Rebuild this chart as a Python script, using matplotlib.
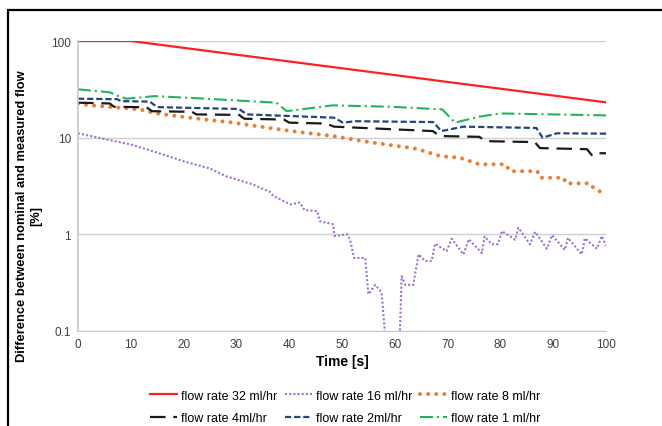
import matplotlib
matplotlib.use("Agg")
import matplotlib.pyplot as plt
from matplotlib.patches import Rectangle

plt.rcParams['font.family'] = ['Liberation Sans', 'DejaVu Sans']

# ---------------------------------- DATA ----------------------------------- #

t32 = [0, 10, 20, 30, 40, 50, 60, 70, 80, 90, 100]
v32 = [100, 100, 85, 72.2, 61.4, 52.2, 44.4, 37.7, 32.1, 27.3, 23.2]

t16 = [0, 5, 10, 15, 20, 25, 28, 30, 33, 36.4, 37, 40.2, 42, 42.9, 45.3, 45.8,
       48.3, 48.6, 51, 51.5, 52.3, 54.4, 55, 56.3, 57.5, 58.1, 58.6, 60.8, 61.3,
       62, 63.5, 64.5, 65.7, 67, 67.6, 69.8, 70.8, 73, 74, 76.5, 77, 78.4, 79.5,
       80.3, 82.8, 83.4, 85.6, 86.6, 88.8, 89.8, 92.2, 92.8, 95.4, 96, 98.3,
       99.2, 100]
v16 = [11.1, 9.7, 8.5, 7.0, 5.7, 4.8, 4.0, 3.7, 3.3, 2.74, 2.49, 2.04, 2.13,
       1.78, 1.74, 1.37, 1.27, 0.96, 1.0, 0.89, 0.57, 0.57, 0.24, 0.30, 0.25,
       0.1, 0.05, 0.05, 0.37, 0.30, 0.30, 0.62, 0.53, 0.53, 0.80, 0.67, 0.90,
       0.62, 0.89, 0.64, 0.95, 0.79, 0.79, 1.08, 0.88, 1.17, 0.79, 1.06, 0.71,
       0.98, 0.69, 0.92, 0.62, 0.91, 0.71, 0.96, 0.76]

t8 = [0, 2.3, 8, 11.7, 14.2, 18.7, 23.7, 29.4, 35.8, 41.5, 48.3, 54, 60.4, 64,
      68.6, 72.3, 76, 81, 81.8, 87, 87.5, 92, 92.4, 97, 97.6, 98.9, 100]
v8 = [22.5, 21.6, 20.4, 19.6, 18.1, 16.7, 15.5, 14.3, 12.7, 11.5, 10.4, 9.2,
      8.2, 7.7, 6.45, 6.2, 5.3, 5.3, 4.5, 4.5, 3.85, 3.85, 3.37, 3.37, 3.04,
      2.77, 2.97]

t4 = [0, 6, 6.8, 13, 14, 21.6, 22.4, 30.5, 31.5, 39, 40, 47, 48.5, 67.2, 68.5,
      76, 77.3, 86.5, 87.5, 96.4, 97.4, 98.5, 100]
v4 = [23, 22.6, 20.9, 20.6, 18.8, 18.5, 17.4, 17.2, 15.7, 15.4, 14.3, 14.0,
      13.0, 11.7, 10.4, 10.2, 9.2, 9.0, 7.8, 7.6, 6.5, 6.9, 6.9]

t2 = [0, 7.4, 8.2, 13.6, 15, 30.5, 32, 48.5, 50.2, 52.5, 67.3, 68.8, 73, 86.8,
      88, 90.7, 100]
v2 = [25.3, 25.0, 23.9, 23.6, 20.7, 19.8, 17.4, 16.1, 14.3, 14.8, 14.5, 11.7,
      13.0, 12.6, 10.0, 11.1, 11.0]

t1 = [0, 6, 7.6, 9.2, 14.5, 23, 37.6, 39.5, 48.3, 60, 69, 71.4, 76, 80, 90, 100]
v1 = [31.6, 29.5, 27, 25.3, 26.9, 25.5, 23, 18.8, 21.6, 20.8, 19.6, 14.3, 16.5,
      17.8, 17.4, 17]

yticks = [0.1, 1, 10, 100]
ytick_labels = ['0.1', '1', '10', '100']
xticks = list(range(0, 101, 10))

# ---------------------------------- PLOT ----------------------------------- #

fig = plt.figure(figsize=(6.62, 4.27), dpi=100)
ax = fig.add_axes([78/662, 1 - 332/427, 528/662, 290/427])

l32, = ax.plot(t32, v32, color='#FF2020', lw=1.6)
l16, = ax.plot(t16, v16, color='#A070D8', lw=1.5, dashes=(1, 1))
l8, = ax.plot(t8, v8, color='#ED7D31', lw=2.9, dashes=(0.01, 2.0),
              dash_capstyle='round')
l4, = ax.plot(t4, v4, color='#1A1A1A', lw=1.6, dashes=(7, 3.5))
l2, = ax.plot(t2, v2, color='#26447C', lw=1.6, dashes=(2.8, 1.3))
l1, = ax.plot(t1, v1, color='#22B45A', lw=1.5, dashes=(6.2, 1.9, 1, 1.9))

ax.set_yscale('log')
ax.set_ylim(0.1, 100)
ax.set_xlim(0, 100)
ax.set_yticks(yticks)
ax.set_yticklabels(ytick_labels)
ax.minorticks_off()
ax.set_xticks(xticks)
ax.tick_params(length=0, labelsize=8.5, colors='#404040', pad=5)
ax.yaxis.grid(True, color='#D0D0D0', lw=1)
for s in ['top', 'right']:
    ax.spines[s].set_visible(False)
ax.spines['left'].set_color('#C8C8C8')
ax.spines['bottom'].set_color('#C8C8C8')
ax.spines['left'].set_linewidth(1.2)

ax.set_xlabel('Time [s]', fontsize=10, fontweight='bold', labelpad=3)
fig.text(29/662, 1 - 216/427, 'Difference between nominal and measured flow\n[%]',
         rotation=90, ha='center', va='center', fontsize=9.3,
         fontweight='bold', multialignment='center', linespacing=1.3)

fig.legend([l32, l4, l16, l2, l8, l1],
           ['flow rate 32 ml/hr', 'flow rate 4ml/hr', 'flow rate 16 ml/hr',
            'flow rate 2ml/hr', 'flow rate 8 ml/hr', 'flow rate 1 ml/hr'],
           ncol=3, loc='center', bbox_to_anchor=(345/662, 1 - 408/427),
           frameon=False, fontsize=9, handlelength=2.2, handletextpad=0.3,
           columnspacing=0.6, labelspacing=0.85, borderpad=0)

# black frame on the left and top
fig.patches.append(Rectangle((8/662, -0.2), 1.2, 1.2 - 11/427,
                             transform=fig.transFigure, fill=False,
                             ec='black', lw=1.6))

fig.savefig('out.png', dpi=100)
